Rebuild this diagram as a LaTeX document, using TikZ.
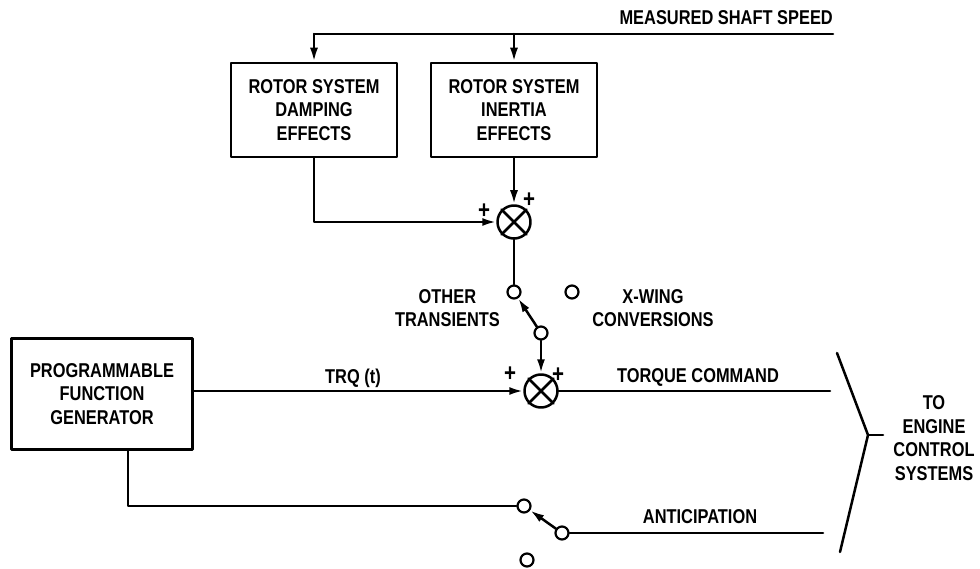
\documentclass[tikz,border=0pt]{standalone}
\usepackage{fontspec}
\setmainfont{Liberation Sans}[FakeStretch=0.82]
\usetikzlibrary{arrows.meta}
\newcommand{\lblfont}{\fontsize{20}{23.5}\selectfont\bfseries}

\begin{document}
\begin{tikzpicture}[x=1pt,y=-1pt,line cap=round,line join=round]
\tikzset{
    wire/.style={line width=2.5pt},
    sig/.style={wire,-{Latex[length=14pt,width=8pt]}},
    blk/.style={draw, line width=2.5pt, minimum width=166pt, minimum height=94pt, align=center, font=\lblfont},
    junc/.style={draw, circle, line width=2.5pt, minimum size=33pt, inner sep=0pt},
    contact/.style={draw, circle, line width=2.2pt, minimum size=13pt, inner sep=0pt, fill=white},
    txt/.style={font=\lblfont, align=center, inner sep=0pt},
    sgn/.style={font=\fontsize{25}{25}\bfseries\selectfont, inner sep=0pt},
}
\useasboundingbox (0,0) rectangle (980,569);
% blocks
\node[blk] (damp) at (314,110) {ROTOR SYSTEM\\DAMPING\\EFFECTS};
\node[blk] (inert) at (514,110) {ROTOR SYSTEM\\INERTIA\\EFFECTS};
\node[blk, minimum width=181pt, minimum height=111pt] (pfg) at (102,394) {PROGRAMMABLE\\FUNCTION\\GENERATOR};
% summing junctions
\node[junc] (sum1) at (514,222) {};
\draw[wire] (sum1.45) -- (sum1.225) (sum1.135) -- (sum1.315);
\node[junc] (sum2) at (541,391) {};
\draw[wire] (sum2.45) -- (sum2.225) (sum2.135) -- (sum2.315);
% switch contacts
\node[contact] (othr) at (514,292) {};
\node[contact] (xwng) at (572,292) {};
\node[contact] (piv1) at (541,333) {};
\node[contact] (ant1) at (524,506) {};
\node[contact] (piv2) at (562,533) {};
\node[contact] (spare) at (527,560) {};
% free ends
\coordinate (speedend) at (833,34);
\coordinate (trqend) at (830,391);
\coordinate (antend) at (823,533);
\coordinate (brtop) at (837,353);
\coordinate (brtip) at (868,435);
\coordinate (brbot) at (840,552);
\coordinate (brout) at (883,435);
% connectors
\draw[wire] (speedend) -- (damp.north |- speedend);
\draw[sig] (damp.north |- speedend) -- (damp.north);
\draw[sig] (inert.north |- speedend) -- (inert.north);
\draw[sig] (damp.south) |- (sum1.west);
\draw[sig] (inert.south) -- (sum1.north);
\draw[wire] (sum1.south) -- (othr.north);
\draw[sig] (piv1) -- (othr);
\draw[sig] (piv1.south) -- (sum2.north);
\draw[sig] (pfg.east |- sum2.west) -- (sum2.west);
\draw[wire] (sum2.east) -- (trqend);
\draw[wire] ([xshift=26pt]pfg.south) |- (ant1.west);
\draw[sig] (piv2) -- (ant1);
\draw[wire] (piv2.east) -- (antend);
\draw[wire] (brtop) -- (brtip) -- (brbot);
\draw[wire] (brtip) -- (brout);
% labels
\node[txt, anchor=east] at (833,18) {MEASURED SHAFT SPEED};
\node[txt] at (353,378) {TRQ (t)};
\node[txt] at (698,377) {TORQUE COMMAND};
\node[txt] at (700,517) {ANTICIPATION};
\node[txt, anchor=east] at (500,308) {OTHER\\TRANSIENTS};
\node[txt] at (653,308) {X-WING\\CONVERSIONS};
\node[txt] at (934,438) {TO\\ENGINE\\CONTROL\\SYSTEMS};
% signs
\node[sgn] at (484,211) {+};
\node[sgn] at (529,200) {+};
\node[sgn] at (510,374) {+};
\node[sgn] at (558,375) {+};
\end{tikzpicture}
\end{document}
